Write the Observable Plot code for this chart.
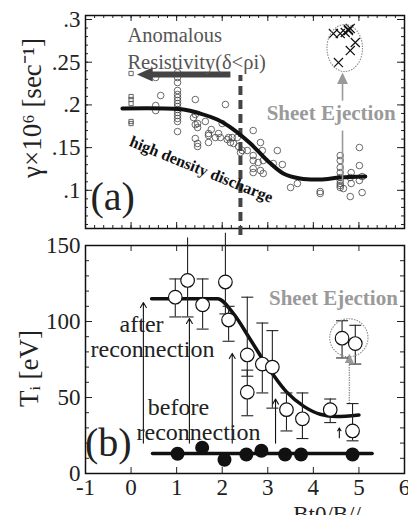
<!DOCTYPE html>
<html><head><meta charset="utf-8">
<script src="https://cdn.jsdelivr.net/npm/d3@7"></script>
<script src="https://cdn.jsdelivr.net/npm/@observablehq/plot@0.6"></script>
<style>
body{margin:0;background:#fff;width:408px;height:515px;overflow:hidden;}
#chart svg{display:block;}
</style></head><body><div id="chart"></div>
<script>
const SERIF = "Liberation Serif, Times New Roman, serif";

// ---------- shared x axis ----------
const xTicks = [-1, 0, 1, 2, 3, 4, 5, 6];
const xTickLabels = ["-1", "0", "1", "2", "3", "4", "5", "6"];

// ---------- panel (a): growth rate ----------
const gammaTicks = [0.1, 0.15, 0.2, 0.25, 0.3];
const gammaTickLabels = [".1", ".15", ".2", ".25", ".3"];
const squaresX = [0, 0, 0, 0, 0, 0];
const squaresY = [0.2368, 0.2098, 0.2063, 0.2016, 0.1806, 0.1782];
const circlesA = [
  [0.54, 0.2321], [0.54, 0.1993], [0.54, 0.1934], [0.65, 0.211],
  [1.02, 0.2379], [1.02, 0.2321], [1.02, 0.2262], [1.02, 0.2169], [1.02, 0.2122], [1.02, 0.2087],
  [1.02, 0.2052], [1.02, 0.2016], [1.02, 0.1981], [1.02, 0.1946], [1.02, 0.1911], [1.02, 0.1876],
  [1.02, 0.1841], [1.02, 0.1806], [1.02, 0.1688],
  [1.41, 0.2063], [2.07, 0.2005], [1.41, 0.1888], [1.37, 0.1852], [1.46, 0.1782], [1.41, 0.177],
  [1.46, 0.1735], [1.76, 0.1712], [1.63, 0.1806], [2.0, 0.1782], [1.7, 0.1665], [1.92, 0.1665],
  [2.14, 0.1618], [1.7, 0.1642], [1.85, 0.1618], [1.41, 0.1607], [1.46, 0.1548], [1.46, 0.1513],
  [1.7, 0.156], [1.96, 0.1618], [2.11, 0.1595], [2.22, 0.1618], [2.25, 0.1548], [2.36, 0.1513],
  [2.4, 0.1443], [2.33, 0.1618], [2.18, 0.156], [2.68, 0.17], [2.55, 0.1466], [2.68, 0.1407],
  [2.84, 0.156], [2.88, 0.1466], [2.68, 0.1349], [2.79, 0.1326], [2.9, 0.1349], [3.21, 0.1466],
  [3.12, 0.1314], [3.32, 0.1302], [2.68, 0.1255], [2.9, 0.1197], [2.84, 0.1232], [2.68, 0.1208],
  [2.44, 0.1466], [3.5, 0.1033], [3.65, 0.108], [4.15, 0.0986], [4.15, 0.0963],
  [4.59, 0.1407], [4.59, 0.1349], [4.59, 0.1267], [4.59, 0.1208], [4.59, 0.115], [4.59, 0.1115],
  [4.59, 0.108], [4.59, 0.1056], [4.59, 0.1033], [4.66, 0.1021],
  [4.83, 0.1208], [4.81, 0.115], [4.83, 0.108], [4.81, 0.0927],
  [5.01, 0.1501], [5.01, 0.129], [5.01, 0.1115], [5.07, 0.1161], [5.07, 0.0974]
];
const crossesA = [[4.44, 0.2836], [4.59, 0.2836], [4.7, 0.2848], [4.77, 0.2871], [4.81, 0.2895],
  [4.77, 0.2883], [4.92, 0.2731], [4.81, 0.2637], [4.55, 0.2496]];
const fitAX = [-0.19, 1.15, 1.52, 1.89, 2.25, 2.62, 2.99, 3.34, 3.71, 4.15, 4.59, 5.14];
const fitAY = [0.1958, 0.1946, 0.1899, 0.1829, 0.1712, 0.1548, 0.1349, 0.1197, 0.1138, 0.1127, 0.115, 0.1161];
const dashedX = 2.4, dashedY = [0.047, 0.2344];
const anomArrow = {x1: 2.18, x2: 0.4, y: 0.2356, head: 0.31};
const ejectArrowA = {x: 4.64, lowY: [0.1091, 0.170], highY: [0.205, 0.228], head: 0.2302};
const ellipseA = {cx: 4.70, cy: 0.266, rx: 0.39, ry: 0.0275};
const textsA = [
  {t: "Anomalous", x: -0.08, y: 0.2813},
  {t: "Resistivity(δ<ρi)", x: -0.08, y: 0.2496}
];

// ---------- panel (b): ion temperature ----------
const tiTicks = [0, 50, 100, 150];
const tiTickLabels = ["0", "50", "100", "150"];
const afterX = [0.97, 1.24, 1.57, 2.07, 2.14, 2.55, 2.55, 2.88, 3.10, 3.41, 3.76, 4.37, 4.86];
const afterT = [116, 127, 111, 126, 101, 78, 53.5, 72, 70, 42, 36, 42, 28];
const afterLo = [103, 103, 95, 105, 87, 64, 38, 53, 43, 28, 23, 33.5, 21.5];
const afterHi = [128, 155, 128, 158, 110, 116, 68, 99, 94, 53, 53, 49, 46];
const ejectX = [4.63, 4.92];
const ejectT = [89, 85.5];
const ejectLo = [76, 72];
const ejectHi = [100.5, 97.5];
const beforeX = [1.02, 1.56, 2.05, 2.53, 2.86, 3.38, 3.73, 4.86];
const beforeT = [13, 17, 9, 12.5, 15, 12.5, 12.5, 12.5];
const beforeLineX = [0.47, 5.29];
const beforeLineT = [13.2, 13.2];
const fitBX = [0.45, 1.9, 2.25, 2.62, 3.0, 3.4, 3.8, 4.15, 4.5, 5.0];
const fitBT = [115, 115, 105, 88, 70, 54, 44, 39, 37.5, 38.5];
const heatX = [0.27, 1.28, 2.22, 3.17, 4.57];
const heatFrom = [20, 20, 20, 20, 23.5];
const heatTo = [112.5, 102, 79, 49, 30];
const ejectArrowB = {x: 4.79, from: 46, to: 73, head: 75.3};
const ellipseB = {cx: 4.79, cy: 89, rx: 0.42, ry: 12.5};
const textsB = [
  {t: "after", x: 0.23, y: 98},
  {t: "reconnection", x: 0.47, y: 81.6},
  {t: "before", x: 1.04, y: 43.4},
  {t: "reconnection", x: 1.48, y: 27}
];

// ---------- helpers ----------
const triLeft = {draw(c, s) { const r = Math.sqrt(s / Math.PI); c.moveTo(-1.1 * r, 0); c.lineTo(r, -0.93 * r); c.lineTo(r, 0.93 * r); c.closePath(); }};
const triUp = {draw(c, s) { const r = Math.sqrt(s / Math.PI); c.moveTo(0, -1.1 * r); c.lineTo(0.9 * r, 0.8 * r); c.lineTo(-0.9 * r, 0.8 * r); c.closePath(); }};
const hcap = {draw(c, s) { const r = Math.sqrt(s / Math.PI); c.moveTo(-r, 0); c.lineTo(r, 0); }};

function ellipseMark(e) {
  return (index, scales) => {
    const x = scales.x, y = scales.y;
    const el = document.createElementNS("http://www.w3.org/2000/svg", "ellipse");
    el.setAttribute("cx", x(e.cx));
    el.setAttribute("cy", y(e.cy));
    el.setAttribute("rx", Math.abs(x(e.cx + e.rx) - x(e.cx)));
    el.setAttribute("ry", Math.abs(y(e.cy + e.ry) - y(e.cy)));
    el.setAttribute("fill", "none");
    el.setAttribute("stroke", "#8a8a8a");
    el.setAttribute("stroke-width", "1.1");
    el.setAttribute("stroke-dasharray", "1.5,1.2");
    return el;
  };
}

const W = 408, ML = 85, MR = 4;
const innerW = W - ML - MR;
const xMinor = d3.range(-1, 6.001, 0.2);
const gammaMinor = d3.range(0.06, 0.3051, 0.01);
const tiMinor = d3.range(0, 150.1, 10);

// ---------- plot (a) ----------
const HA = 230, MTA = 15, MBA = 2, innerHA = HA - MTA - MBA;
const plotA = Plot.plot({
  width: W, height: HA, marginLeft: ML, marginRight: MR, marginTop: MTA, marginBottom: MBA,
  x: {domain: [-1, 6], axis: null},
  y: {domain: [0.0553, 0.3047], axis: null},
  style: {background: "transparent", overflow: "visible", fontFamily: SERIF},
  marks: [
    Plot.tickX(xMinor, {x: d => d, insetTop: innerHA - 3, stroke: "#222"}),
    Plot.tickX(xMinor, {x: d => d, insetBottom: innerHA - 3, stroke: "#222"}),
    Plot.tickX(xTicks, {x: d => d, insetTop: innerHA - 6, stroke: "#222"}),
    Plot.tickX(xTicks, {x: d => d, insetBottom: innerHA - 6, stroke: "#222"}),
    Plot.tickY(gammaMinor, {y: d => d, insetRight: innerW - 3, stroke: "#222"}),
    Plot.tickY(gammaMinor, {y: d => d, insetLeft: innerW - 3, stroke: "#222"}),
    Plot.tickY(gammaTicks, {y: d => d, insetRight: innerW - 7, stroke: "#222"}),
    Plot.tickY(gammaTicks, {y: d => d, insetLeft: innerW - 7, stroke: "#222"}),
    Plot.frame({stroke: "#111", strokeWidth: 1.5}),
    Plot.text(gammaTicks, {y: d => d, text: (d, i) => gammaTickLabels[i], frameAnchor: "left", dx: -5, textAnchor: "end", fontSize: 23, fontFamily: SERIF, fill: "#222"}),
    Plot.text(["γ×10⁶ [sec⁻¹]"], {frameAnchor: "left", textAnchor: "middle", dx: -53, dy: -14, rotate: -90, fontSize: 27, fontFamily: SERIF, fill: "#222"}),
    Plot.dot(squaresX, {x: d => d, y: (d, i) => squaresY[i], symbol: "square", r: 2.4, stroke: "#555", strokeWidth: 0.9, fill: "none"}),
    Plot.dot(circlesA, {x: d => d[0], y: d => d[1], r: 3.3, stroke: "#444", strokeWidth: 0.8, fill: "none"}),
    Plot.dot(crossesA, {x: d => d[0], y: d => d[1], symbol: "times", r: 4.2, stroke: "#111", strokeWidth: 1.2}),
    ellipseMark(ellipseA),
    Plot.ruleX([dashedX], {x: d => d, y1: dashedY[0], y2: dashedY[1], stroke: "#444", strokeWidth: 4, strokeDasharray: "9,5"}),
    Plot.line(fitAX, {x: d => d, y: (d, i) => fitAY[i], curve: "catmull-rom", stroke: "#111", strokeWidth: 4}),
    Plot.link([anomArrow], {x1: d => d.x1, x2: d => d.x2, y1: d => d.y, y2: d => d.y, stroke: "#444", strokeWidth: 6}),
    Plot.dot([anomArrow], {x: d => d.head, y: d => d.y, symbol: triLeft, r: 7.5, fill: "#444", stroke: "none"}),
    Plot.link([ejectArrowA], {x1: d => d.x, x2: d => d.x, y1: d => d.lowY[0], y2: d => d.lowY[1], stroke: "#999", strokeWidth: 1.6}),
    Plot.link([ejectArrowA], {x1: d => d.x, x2: d => d.x, y1: d => d.highY[0], y2: d => d.highY[1], stroke: "#999", strokeWidth: 1.6}),
    Plot.dot([ejectArrowA], {x: d => d.x, y: d => d.head, symbol: triUp, r: 6, fill: "#999", stroke: "none"}),
    Plot.text(textsA, {x: "x", y: "y", text: "t", textAnchor: "start", fontSize: 20.5, fontFamily: SERIF, fill: "#555"}),
    Plot.text(["Sheet Ejection"], {x: 4.39, y: 0.19, fontSize: 21, fontWeight: "bold", fontFamily: SERIF, fill: "#9a9a9a"}),
    Plot.text(["high density discharge"], {x: 1.54, y: 0.1244, rotate: 22, fontSize: 16, fontWeight: "bold", fontFamily: SERIF, fill: "#111"}),
    Plot.text(["(a)"], {x: -0.89, y: 0.0916, textAnchor: "start", fontSize: 40, fontFamily: SERIF, fill: "#222"})
  ]
});

// ---------- plot (b) ----------
const HB = 285, MTB = 15, MBB = 42, innerHB = HB - MTB - MBB;
const plotB = Plot.plot({
  width: W, height: HB, marginLeft: ML, marginRight: MR, marginTop: MTB, marginBottom: MBB,
  x: {domain: [-1, 6], axis: null},
  y: {domain: [0, 150], axis: null},
  style: {background: "transparent", overflow: "visible", fontFamily: SERIF},
  marks: [
    Plot.tickX(xTicks, {x: d => d, insetTop: innerHB - 6, stroke: "#222"}),
    Plot.tickX(xTicks, {x: d => d, insetBottom: innerHB - 6, stroke: "#222"}),
    Plot.tickY(tiMinor, {y: d => d, insetRight: innerW - 4, stroke: "#222"}),
    Plot.tickY(tiMinor, {y: d => d, insetLeft: innerW - 4, stroke: "#222"}),
    Plot.tickY(tiTicks, {y: d => d, insetRight: innerW - 7, stroke: "#222"}),
    Plot.tickY(tiTicks, {y: d => d, insetLeft: innerW - 7, stroke: "#222"}),
    Plot.frame({stroke: "#111", strokeWidth: 1.5}),
    Plot.text(tiTicks, {y: d => d, text: (d, i) => tiTickLabels[i], frameAnchor: "left", dx: -5, textAnchor: "end", fontSize: 23, fontFamily: SERIF, fill: "#222"}),
    Plot.text(xTicks, {x: d => d, text: (d, i) => xTickLabels[i], frameAnchor: "bottom", dy: 21, fontSize: 23, fontFamily: SERIF, fill: "#222"}),
    Plot.text(["Tᵢ [eV]"], {frameAnchor: "left", textAnchor: "middle", dx: -56, dy: 9, rotate: -90, fontSize: 27, fontFamily: SERIF, fill: "#222"}),
    Plot.text(["Bt0/B//"], {frameAnchor: "bottom", x: 4.3, dy: 48, fontSize: 23, fontFamily: SERIF, fill: "#222"}),
    Plot.line(beforeLineX, {x: d => d, y: (d, i) => beforeLineT[i], stroke: "#111", strokeWidth: 3.5}),
    Plot.line(fitBX, {x: d => d, y: (d, i) => fitBT[i], curve: "monotone-x", stroke: "#111", strokeWidth: 3.5}),
    Plot.arrow(heatX, {x1: d => d, x2: d => d, y1: (d, i) => heatFrom[i], y2: (d, i) => heatTo[i], stroke: "#111", strokeWidth: 1.1, headLength: 8}),
    Plot.link([ejectArrowB], {x1: d => d.x, x2: d => d.x, y1: d => d.from, y2: d => d.to, stroke: "#999", strokeWidth: 1.4, strokeDasharray: "1.5,1"}),
    Plot.dot([ejectArrowB], {x: d => d.x, y: d => d.head, symbol: triUp, r: 5, fill: "#999", stroke: "none"}),
    Plot.ruleX(afterX, {x: d => d, y1: (d, i) => afterLo[i], y2: (d, i) => afterHi[i], stroke: "#222", strokeWidth: 1.1}),
    Plot.dot(afterX, {x: d => d, y: (d, i) => afterLo[i], symbol: hcap, r: 6, stroke: "#222", strokeWidth: 1.1}),
    Plot.dot(afterX, {filter: (d, i) => afterHi[i] < 150, x: d => d, y: (d, i) => afterHi[i], symbol: hcap, r: 6, stroke: "#222", strokeWidth: 1.1}),
    Plot.ruleX(ejectX, {x: d => d, y1: (d, i) => ejectLo[i], y2: (d, i) => ejectHi[i], stroke: "#222", strokeWidth: 1.1}),
    Plot.dot(ejectX, {x: d => d, y: (d, i) => ejectLo[i], symbol: hcap, r: 6, stroke: "#222", strokeWidth: 1.1}),
    Plot.dot(ejectX, {x: d => d, y: (d, i) => ejectHi[i], symbol: hcap, r: 6, stroke: "#222", strokeWidth: 1.1}),
    Plot.dot(afterX, {x: d => d, y: (d, i) => afterT[i], r: 6.8, fill: "white", stroke: "#111", strokeWidth: 1.2}),
    Plot.dot(ejectX, {x: d => d, y: (d, i) => ejectT[i], r: 6.8, fill: "white", stroke: "#111", strokeWidth: 1.2}),
    Plot.dot(beforeX, {x: d => d, y: (d, i) => beforeT[i], r: 7, fill: "#111", stroke: "none"}),
    ellipseMark(ellipseB),
    Plot.text(textsB, {x: "x", y: "y", text: "t", fontSize: 24, fontFamily: SERIF, fill: "#222"}),
    Plot.text(["(b)"], {x: -0.5, y: 19.7, fontSize: 40, fontFamily: SERIF, fill: "#222"}),
    Plot.text(["Sheet Ejection"], {x: 4.44, y: 115, fontSize: 21, fontWeight: "bold", fontFamily: SERIF, fill: "#9a9a9a"})
  ]
});

const root = document.getElementById("chart");
root.append(plotA, plotB);
</script></body></html>
